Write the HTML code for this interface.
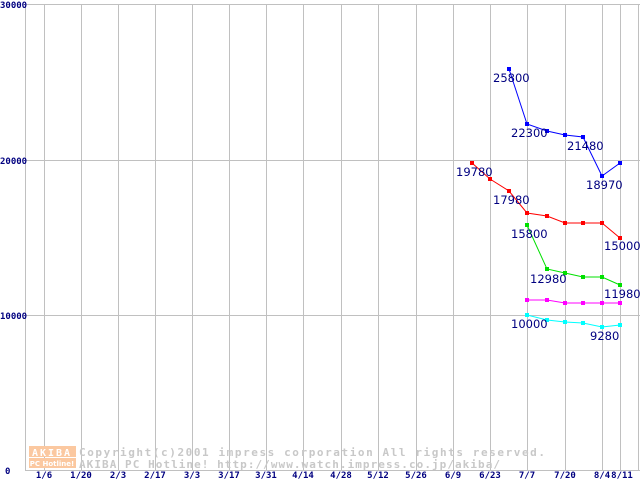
<!DOCTYPE html>
<html><head><meta charset="utf-8"><style>
html,body{margin:0;padding:0;background:#fff;width:640px;height:480px;overflow:hidden}
svg{display:block}
.ax{font-family:"DejaVu Sans Mono","Liberation Mono",monospace;font-size:9px;fill:#000080;font-weight:bold}
.lb{font-family:"DejaVu Sans","Liberation Sans",sans-serif;font-size:11.5px;fill:#000080}
.wm{font-family:"DejaVu Sans Mono","Liberation Mono",monospace;font-size:11px;fill:#c8c8c8;font-weight:bold}
</style></head><body>
<svg width="640" height="480" viewBox="0 0 640 480" xmlns="http://www.w3.org/2000/svg">
<g stroke="#c0c0c0" stroke-width="1" fill="none" shape-rendering="crispEdges">
<line x1="25" y1="4.5" x2="640" y2="4.5"/>
<line x1="25" y1="160.5" x2="640" y2="160.5"/>
<line x1="25" y1="315.5" x2="640" y2="315.5"/>
<line x1="25" y1="470.5" x2="640" y2="470.5"/>
<line x1="25.5" y1="4" x2="25.5" y2="471"/>
<line x1="44.5" y1="4" x2="44.5" y2="471"/>
<line x1="81.5" y1="4" x2="81.5" y2="471"/>
<line x1="118.5" y1="4" x2="118.5" y2="471"/>
<line x1="155.5" y1="4" x2="155.5" y2="471"/>
<line x1="192.5" y1="4" x2="192.5" y2="471"/>
<line x1="229.5" y1="4" x2="229.5" y2="471"/>
<line x1="266.5" y1="4" x2="266.5" y2="471"/>
<line x1="303.5" y1="4" x2="303.5" y2="471"/>
<line x1="341.5" y1="4" x2="341.5" y2="471"/>
<line x1="378.5" y1="4" x2="378.5" y2="471"/>
<line x1="416.5" y1="4" x2="416.5" y2="471"/>
<line x1="453.5" y1="4" x2="453.5" y2="471"/>
<line x1="490.5" y1="4" x2="490.5" y2="471"/>
<line x1="527.5" y1="4" x2="527.5" y2="471"/>
<line x1="565.5" y1="4" x2="565.5" y2="471"/>
<line x1="602.5" y1="4" x2="602.5" y2="471"/>
<line x1="620.5" y1="4" x2="620.5" y2="471"/>
<line x1="638.5" y1="4" x2="638.5" y2="471"/>
</g>
<text class="ax" x="0" y="8">30000</text>
<text class="ax" x="0" y="164">20000</text>
<text class="ax" x="0" y="319">10000</text>
<text class="ax" x="5" y="474">0</text>
<g class="ax" text-anchor="middle">
<text x="44" y="478">1/6</text><text x="81" y="478">1/20</text><text x="118" y="478">2/3</text>
<text x="155" y="478">2/17</text><text x="192" y="478">3/3</text><text x="229" y="478">3/17</text>
<text x="266" y="478">3/31</text><text x="303" y="478">4/14</text><text x="341" y="478">4/28</text>
<text x="378" y="478">5/12</text><text x="416" y="478">5/26</text><text x="453" y="478">6/9</text>
<text x="490" y="478">6/23</text><text x="527" y="478">7/7</text><text x="565" y="478">7/20</text>
<text x="602" y="478">8/4</text><text x="622" y="478">8/11</text>
</g>
<rect x="29" y="446" width="47" height="11" fill="#fbc8a0"/>
<rect x="29" y="458" width="47" height="10" fill="#fbc8a0"/>
<text x="52" y="456" text-anchor="middle" font-family="DejaVu Sans Mono,monospace" font-size="10" font-weight="bold" fill="#fff" letter-spacing="2">AKIBA</text>
<text x="52" y="466" text-anchor="middle" font-family="DejaVu Sans,sans-serif" font-size="7" font-weight="bold" fill="#fff">PC Hotline!</text>
<text class="wm" x="79" y="456" textLength="466" lengthAdjust="spacing">Copyright(c)2001 impress corporation All rights reserved.</text>
<text class="wm" x="79" y="468" textLength="421" lengthAdjust="spacing">AKIBA PC Hotline!  http://www.watch.impress.co.jp/akiba/</text>
<g fill="none" stroke-width="1">
<polyline stroke="#0000ff" points="509,69 527,124 547,131 565,135 583,137 602,176 620,163"/>
<polyline stroke="#ff0000" points="472,163 490,179 509,191 527,213 547,216 565,223 583,223 602,223 620,238"/>
<polyline stroke="#00e000" points="527,225 547,269 565,273 583,277 602,277 620,285"/>
<polyline stroke="#ff00ff" points="527,300 547,300 565,303 583,303 602,303 620,303"/>
<polyline stroke="#00ffff" points="527,315 547,320 565,322 583,323 602,327 620,325"/>
</g>
<g fill="#0000ff"><rect x="507" y="67" width="4" height="4"/><rect x="525" y="122" width="4" height="4"/><rect x="545" y="129" width="4" height="4"/><rect x="563" y="133" width="4" height="4"/><rect x="581" y="135" width="4" height="4"/><rect x="600" y="174" width="4" height="4"/><rect x="618" y="161" width="4" height="4"/></g>
<g fill="#ff0000"><rect x="470" y="161" width="4" height="4"/><rect x="488" y="177" width="4" height="4"/><rect x="507" y="189" width="4" height="4"/><rect x="525" y="211" width="4" height="4"/><rect x="545" y="214" width="4" height="4"/><rect x="563" y="221" width="4" height="4"/><rect x="581" y="221" width="4" height="4"/><rect x="600" y="221" width="4" height="4"/><rect x="618" y="236" width="4" height="4"/></g>
<g fill="#00e000"><rect x="525" y="223" width="4" height="4"/><rect x="545" y="267" width="4" height="4"/><rect x="563" y="271" width="4" height="4"/><rect x="581" y="275" width="4" height="4"/><rect x="600" y="275" width="4" height="4"/><rect x="618" y="283" width="4" height="4"/></g>
<g fill="#ff00ff"><rect x="525" y="298" width="4" height="4"/><rect x="545" y="298" width="4" height="4"/><rect x="563" y="301" width="4" height="4"/><rect x="581" y="301" width="4" height="4"/><rect x="600" y="301" width="4" height="4"/><rect x="618" y="301" width="4" height="4"/></g>
<g fill="#00ffff"><rect x="525" y="313" width="4" height="4"/><rect x="545" y="318" width="4" height="4"/><rect x="563" y="320" width="4" height="4"/><rect x="581" y="321" width="4" height="4"/><rect x="600" y="325" width="4" height="4"/><rect x="618" y="323" width="4" height="4"/></g>
<g class="lb">
<text x="493" y="82">25800</text><text x="511" y="137">22300</text><text x="567" y="150">21480</text>
<text x="586" y="189">18970</text><text x="456" y="176">19780</text><text x="493" y="204">17980</text>
<text x="511" y="238">15800</text><text x="604" y="250">15000</text><text x="530" y="283">12980</text>
<text x="604" y="298">11980</text><text x="511" y="328">10000</text><text x="590" y="340">9280</text>
</g>
</svg>
</body></html>
